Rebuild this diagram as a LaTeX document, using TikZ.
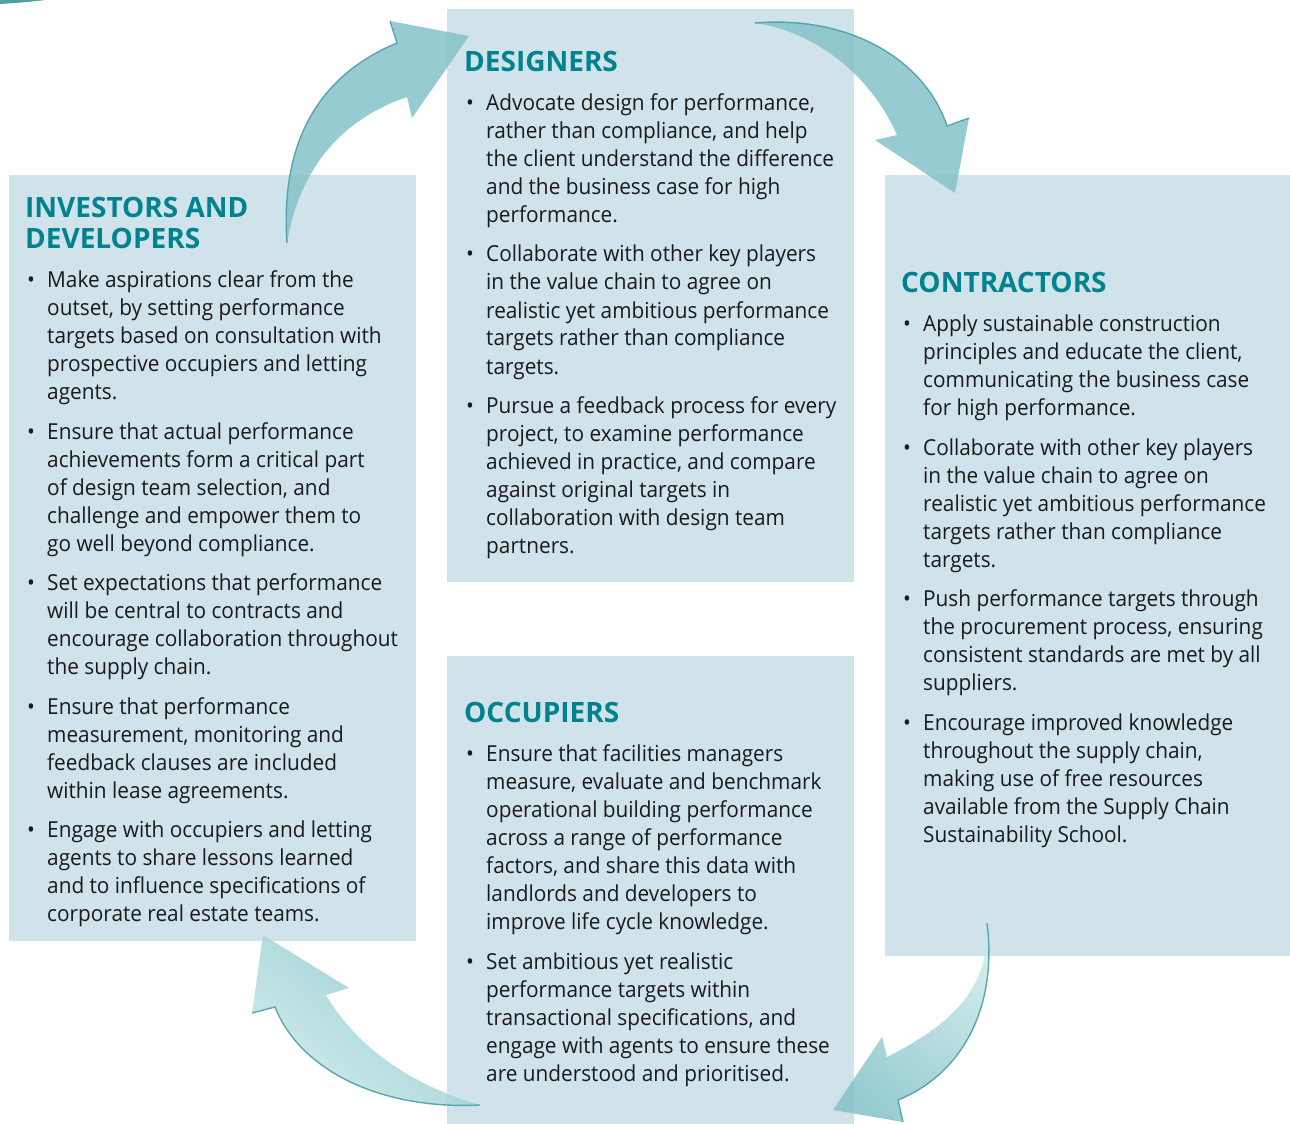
\documentclass[tikz,border=0pt]{standalone}
\usepackage{fontspec}
\setmainfont{Open Sans}[FakeStretch=0.945]
\newfontfamily\headfamily{Open Sans}
\definecolor{boxbg}{HTML}{D0E3EA}
\definecolor{headteal}{HTML}{00838F}
\definecolor{txt}{HTML}{1A1A1A}
\definecolor{arrowmid}{HTML}{84C3C9}
\definecolor{arrowlight}{HTML}{CAE8E9}
\definecolor{arrowdark}{HTML}{4E9FA7}
\newlength{\bind}\setlength{\bind}{22pt}
\newcommand{\bitem}[1]{\par\hangindent=\bind\hangafter=0\noindent\llap{\makebox[\bind][l]{\hspace{2pt}•}}#1\par}
\newcommand{\boxhead}[1]{\noindent{\color{headteal}\headfamily\bfseries\fontsize{28}{31}\selectfont #1\par}}
\newenvironment{panelcontent}{\begin{minipage}[t]{400pt}\fontsize{22}{28}\selectfont
  \setlength{\parskip}{11.5pt}\setlength{\parindent}{0pt}\rightskip=0pt plus 1fil\hyphenpenalty=10000\exhyphenpenalty=10000}{\end{minipage}}
\tikzset{
  panel/.style={fill=boxbg, draw=none},
  panelnode/.style={inner sep=0pt, anchor=base west, text=txt},
  flowarrow/.style={fill opacity=0.85, draw=none},
  arrowedge/.style={draw=arrowdark, line width=1.4pt, opacity=0.9}
}
\begin{document}
\begin{tikzpicture}[x=1pt,y=-1pt]
\useasboundingbox (0,0) rectangle (1290,1124);
% corner fragment
\fill[arrowdark] (0,0) -- (45,0) .. controls (30,2) and (15,3) .. (0,4) -- cycle;
% panels
\path[panel] (9,175) rectangle (416,941);
\path[panel] (447,9) rectangle (854,582);
\path[panel] (885,175) rectangle (1290,956);
\path[panel] (447,656) rectangle (854,1124);

% arrow A: investors -> designers
\shade[flowarrow, top color=arrowmid, middle color=arrowlight, bottom color=arrowmid, shading angle=-30]
  (287,243) .. controls (280,140) and (320,75) .. (397,43) -- (390,21) -- (469,36) -- (412,118) -- (407,97)
  .. controls (345,118) and (300,165) .. (287,243) -- cycle;
\draw[arrowedge] (287,243) .. controls (280,140) and (320,75) .. (397,43) -- (390,21);
% arrow B: designers -> contractors
\shade[flowarrow, left color=arrowmid, middle color=arrowlight, right color=arrowmid, shading angle=60]
  (755,23) .. controls (850,15) and (925,60) .. (947,126) -- (969,118) -- (955,193) -- (875,140) -- (897,135)
  .. controls (872,78) and (818,32) .. (755,23) -- cycle;
\draw[arrowedge] (755,23) .. controls (850,15) and (925,60) .. (947,126) -- (969,118);
% arrow C: contractors -> occupiers
\shade[flowarrow, top color=arrowlight, middle color=arrowlight, bottom color=arrowmid, shading angle=-40]
  (987,923) .. controls (998,1010) and (960,1075) .. (898,1100) -- (903,1122) -- (833,1110) -- (882,1037) -- (887,1057)
  .. controls (950,1025) and (990,990) .. (987,923) -- cycle;
\draw[arrowedge] (987,923) .. controls (998,1010) and (960,1075) .. (898,1100) -- (903,1122);
% arrow D: occupiers -> investors
\shade[flowarrow, left color=arrowmid, middle color=arrowlight, right color=arrowlight, shading angle=-40]
  (480,1105) .. controls (410,1085) and (355,1045) .. (326,995) -- (349,988) -- (263,935) -- (252,1013) -- (275,1007)
  .. controls (300,1070) and (380,1110) .. (480,1105) -- cycle;
\draw[arrowedge] (252,1013) -- (275,1007) .. controls (300,1070) and (380,1110) .. (480,1105);

% texts
\node[panelnode] (inv) at (25,217) {\begin{panelcontent}
\boxhead{INVESTORS AND\\DEVELOPERS}
\bitem{Make aspirations clear from the\\outset, by setting performance\\targets based on consultation with\\prospective occupiers and letting\\agents.}
\bitem{Ensure that actual performance\\achievements form a critical part\\of design team selection, and\\challenge and empower them to\\go well beyond compliance.}
\bitem{Set expectations that performance\\will be central to contracts and\\encourage collaboration throughout\\the supply chain.}
\bitem{Ensure that performance\\measurement, monitoring and\\feedback clauses are included\\within lease agreements.}
\bitem{Engage with occupiers and letting\\agents to share lessons learned\\and to influence specifications of\\corporate real estate teams.}
\end{panelcontent}};

\node[panelnode] (des) at (464,71) {\begin{panelcontent}
\boxhead{DESIGNERS}
\bitem{Advocate design for performance,\\rather than compliance, and help\\the client understand the difference\\and the business case for high\\performance.}
\bitem{Collaborate with other key players\\in the value chain to agree on\\realistic yet ambitious performance\\targets rather than compliance\\targets.}
\bitem{Pursue a feedback process for every\\project, to examine performance\\achieved in practice, and compare\\against original targets in\\collaboration with design team\\partners.}
\end{panelcontent}};

\node[panelnode] (con) at (901,292) {\begin{panelcontent}
\boxhead{CONTRACTORS}
\bitem{Apply sustainable construction\\principles and educate the client,\\communicating the business case\\for high performance.}
\bitem{Collaborate with other key players\\in the value chain to agree on\\realistic yet ambitious performance\\targets rather than compliance\\targets.}
\bitem{Push performance targets through\\the procurement process, ensuring\\consistent standards are met by all\\suppliers.}
\bitem{Encourage improved knowledge\\throughout the supply chain,\\making use of free resources\\available from the Supply Chain\\Sustainability School.}
\end{panelcontent}};

\node[panelnode] (occ) at (464,722) {\begin{panelcontent}
\boxhead{OCCUPIERS}
\bitem{Ensure that facilities managers\\measure, evaluate and benchmark\\operational building performance\\across a range of performance\\factors, and share this data with\\landlords and developers to\\improve life cycle knowledge.}
\bitem{Set ambitious yet realistic\\performance targets within\\transactional specifications, and\\engage with agents to ensure these\\are understood and prioritised.}
\end{panelcontent}};
\end{tikzpicture}
\end{document}
